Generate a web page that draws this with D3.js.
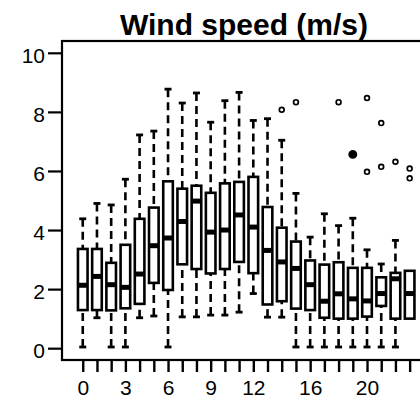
<!DOCTYPE html>
<html>
<head>
<meta charset="utf-8">
<script src="https://cdn.jsdelivr.net/npm/d3@7"></script>
<style>
  html, body { margin: 0; padding: 0; background: #fff; }
  svg { display: block; }
  text { font-family: "Liberation Sans", Arial, sans-serif; fill: #000; }
</style>
</head>
<body>
<div id="chart"></div>
<script>
// ---- data (wind speed in m/s by hour of day) ----
const hours = [0,1,2,3,4,5,6,7,8,9,10,11,12,13,14,15,16,17,18,19,20,21,22,23];
const whiskerLow  = [0.04,1.03,0.04,0.04,1.03,1.09,0.04,1.06,1.06,1.12,1.12,1.22,1.85,1.05,1.05,0.04,0.04,0.04,0.04,0.04,0.04,0.04,0.04,1.0];
const q1          = [1.29,1.29,1.28,1.35,1.50,2.21,1.97,2.84,2.68,2.53,2.68,2.92,2.54,1.48,1.59,1.34,1.29,1.03,1.00,1.00,1.07,1.43,1.00,1.00];
const medians     = [2.13,2.43,2.15,2.06,2.51,3.47,3.73,4.29,4.98,3.93,4.00,4.51,4.10,3.31,2.92,2.70,2.15,1.59,1.84,1.67,1.60,1.85,2.35,1.85];
const q3          = [3.36,3.36,2.89,3.50,4.38,4.76,5.65,5.40,5.50,5.26,5.58,5.63,5.80,4.78,4.08,3.61,2.97,2.83,2.91,2.72,2.72,2.40,2.55,2.62];
const whiskerHigh = [4.38,4.90,4.85,5.72,7.22,7.35,8.77,8.30,8.64,7.65,8.38,8.66,7.71,7.77,7.04,5.24,3.76,4.55,4.15,4.40,3.33,2.85,3.65,2.62];
const outlierHour  = [14,15,18,19,20,20,21,21,22,23,23];
const outlierValue = [8.07,8.33,8.33,6.56,8.47,5.97,7.62,6.14,6.31,6.08,5.75];
const outlierFilled = [false,false,false,true,false,false,false,false,false,false,false];
const yTicks = [0,2,4,6,8,10];
const xTickLabels = [0,3,6,9,12,16,20];
const title = "Wind speed (m/s)";

// ---- layout ----
const W = 420, H = 399;
const svg = d3.select("#chart").append("svg").attr("width", W).attr("height", H);

const x = d3.scaleLinear().domain([-1.46, 24.46]).range([62, 430.4]);
const y = d3.scaleLinear().domain([-0.4, 10.4]).range([360, 41]);

const boxW = 9.6, capW = 7;

// frame
svg.append("rect")
  .attr("x", x.range()[0]).attr("y", y.range()[1])
  .attr("width", x.range()[1] - x.range()[0])
  .attr("height", y.range()[0] - y.range()[1])
  .attr("fill", "none").attr("stroke", "#000").attr("stroke-width", 2.2);

// y axis
const yAxis = d3.axisLeft(y).tickValues(yTicks).tickSize(14).tickSizeOuter(0).tickPadding(3);
const gy = svg.append("g").attr("transform", `translate(${x.range()[0]},0)`).call(yAxis);
gy.select(".domain").remove();
gy.selectAll("line").attr("stroke", "#000").attr("stroke-width", 2.2);
gy.selectAll("text").style("font-size", "21px").attr("dy", "0.45em");

// x axis
const xAxis = d3.axisBottom(x).tickValues(hours).tickSize(12).tickSizeOuter(0).tickPadding(8)
  .tickFormat(d => xTickLabels.includes(d) ? d : "");
const gx = svg.append("g").attr("transform", `translate(0,${y.range()[0]})`).call(xAxis);
gx.select(".domain").remove();
gx.selectAll("line").attr("stroke", "#000").attr("stroke-width", 2.4);
gx.selectAll("text").style("font-size", "21px");

// boxplots
const g = svg.append("g");
hours.forEach((h, i) => {
  const cx = x(h);
  // whiskers
  [[q3[i], whiskerHigh[i]], [q1[i], whiskerLow[i]]].forEach(([a, b]) => {
    if (Math.abs(a - b) < 1e-9) return;
    g.append("line")
      .attr("x1", cx).attr("x2", cx).attr("y1", y(b)).attr("y2", y(a))
      .attr("stroke", "#000").attr("stroke-width", 2.6).attr("stroke-dasharray", "8,5");
    g.append("line")
      .attr("x1", cx - capW / 2).attr("x2", cx + capW / 2).attr("y1", y(b)).attr("y2", y(b))
      .attr("stroke", "#000").attr("stroke-width", 2.8);
  });
  // box
  g.append("rect")
    .attr("x", cx - boxW / 2).attr("y", y(q3[i]))
    .attr("width", boxW).attr("height", y(q1[i]) - y(q3[i]))
    .attr("fill", "#fff").attr("stroke", "#000").attr("stroke-width", 2.6);
  // median
  g.append("line")
    .attr("x1", cx - boxW / 2).attr("x2", cx + boxW / 2)
    .attr("y1", y(medians[i])).attr("y2", y(medians[i]))
    .attr("stroke", "#000").attr("stroke-width", 5);
});

// outliers
outlierHour.forEach((h, i) => {
  g.append("circle")
    .attr("cx", x(h)).attr("cy", y(outlierValue[i]))
    .attr("r", outlierFilled[i] ? 3.6 : 2.4)
    .attr("fill", outlierFilled[i] ? "#000" : "#fff")
    .attr("stroke", "#000").attr("stroke-width", 1.7);
});

// title
svg.append("text")
  .attr("x", 244).attr("y", 35)
  .attr("text-anchor", "middle")
  .style("font-size", "30px").style("font-weight", "bold")
  .text(title);
</script>
</body>
</html>
